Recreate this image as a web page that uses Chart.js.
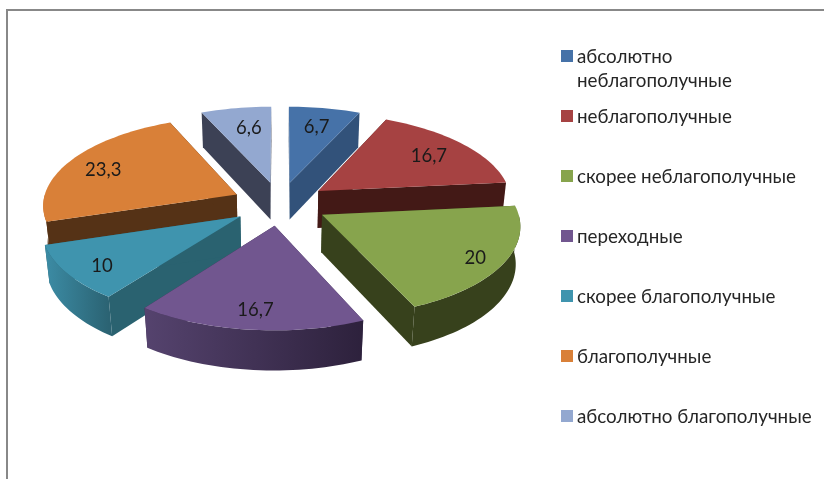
<!DOCTYPE html>
<html>
<head>
<meta charset="utf-8">
<style>
body { margin: 0; background: #fff; width: 824px; height: 479px; overflow: hidden; position: relative; font-family: Lato, "Noto Sans", sans-serif; }
#frame { position: absolute; left: 6px; top: 9px; right: 0; bottom: 0; border-left: 2px solid #888; border-top: 2px solid #888; }
canvas { position: absolute; left: 0; top: 0; }
.item { position: absolute; left: 577px; font-size: 18.8px; line-height: 24px; color: #262626; white-space: nowrap; }
.box { position: absolute; left: -16px; top: 6px; width: 12px; height: 12px; }
</style>
</head>
<body>
<div id="frame"></div>
<canvas id="grafica" width="824" height="479"></canvas>
<div id="leyenda"></div>
<script src="https://cdn.jsdelivr.net/npm/chart.js@4"></script>
<script>
const categorias = ['абсолютно\nнеблагополучные', 'неблагополучные', 'скорее неблагополучные', 'переходные', 'скорее благополучные', 'благополучные', 'абсолютно благополучные'];
const valores = [6.7, 16.7, 20, 16.7, 10, 23.3, 6.6];

const colores = ['#4672a8', '#a64242', '#87a44d', '#71568f', '#3f94ae', '#d98038', '#93a8d0'];
const coloresCorte = ['#32527a', '#431916', '#37411c', '#3a2b4d', '#2a6270', '#553216', '#3c4155'];
const ladoIzq = ['#3b6090', '#6e2c2a', '#37411c', '#55436e', '#3c8ca5', '#c87332', '#7d8eb0'];
const ladoDer = ['#32527a', '#431916', '#37411c', '#2d213c', '#2b6373', '#553216', '#3c4155'];

// proyeccion del pastel con perspectiva
const inclinacion = 0.455;
const persp = 0.00055;
const altura = 38;

function punto(el, ang, r, z) {
    const mitad = (el.startAngle + el.endAngle) / 2;
    const off = el.options.offset;
    const u = r * Math.cos(ang) + off * Math.cos(mitad);
    const v = r * Math.sin(ang) + off * Math.sin(mitad);
    const s = 1 / (1 - persp * v + 0.0005 * z);
    return { x: el.x + u * s, y: el.y + (v * inclinacion + z) * s };
}

function arco(el, z, desde, hasta) {
    let pts = [];
    const pasos = Math.max(Math.ceil((hasta - desde) / 0.03), 1);
    for (let i = 0; i <= pasos; i++) {
        pts.push(punto(el, desde + (hasta - desde) * i / pasos, el.outerRadius, z));
    }
    return pts;
}

function trazar(ctx, pts, color) {
    ctx.beginPath();
    ctx.moveTo(pts[0].x, pts[0].y);
    for (let i = 1; i < pts.length; i++) ctx.lineTo(pts[i].x, pts[i].y);
    ctx.closePath();
    ctx.fillStyle = color;
    ctx.fill();
}

const pastel3d = {
    id: 'pastel3d',
    beforeDatasetDraw(chart, args) {
        const ctx = chart.ctx;
        const arcos = args.meta.data.map((el, i) => ({ el, i }));
        // de atras hacia adelante
        arcos.sort((a, b) => Math.sin((a.el.startAngle + a.el.endAngle) / 2) - Math.sin((b.el.startAngle + b.el.endAngle) / 2));
        arcos.forEach(({ el, i }) => {
            const arriba = arco(el, 0, el.startAngle, el.endAngle);
            const abajo = arco(el, altura, el.startAngle, el.endAngle);
            const c0 = punto(el, 0, 0, 0);
            const c1 = punto(el, 0, 0, altura);
            trazar(ctx, [c0, arriba[0], abajo[0], c1], coloresCorte[i]);
            trazar(ctx, [c0, arriba[arriba.length - 1], abajo[abajo.length - 1], c1], coloresCorte[i]);
            // solo la parte del borde que mira al frente
            const desde = Math.max(el.startAngle, 0);
            const hasta = Math.min(el.endAngle, Math.PI);
            if (hasta > desde) {
                const a1 = arco(el, 0, desde, hasta);
                const a2 = arco(el, altura, desde, hasta);
                const x0 = a1[0].x, x1 = a1[a1.length - 1].x;
                const gr = ctx.createLinearGradient(Math.min(x0, x1), 0, Math.max(x0, x1), 0);
                gr.addColorStop(0, ladoIzq[i]);
                gr.addColorStop(1, ladoDer[i]);
                trazar(ctx, a1.concat(a2.slice().reverse()), gr);
            }
            trazar(ctx, [c0].concat(arriba), colores[i]);
        });
        ctx.save();
        ctx.font = '18.5px Lato, "Noto Sans"';
        ctx.fillStyle = '#1a1a1a';
        ctx.textAlign = 'center';
        ctx.textBaseline = 'middle';
        // ajuste fino de las etiquetas, como quedaron en el original
        const ajusteX = [-1, -3, 13, 0, -5, -3, 6];
        const ajusteY = [4, 2, 6, 5, 6, 2, 5];
        args.meta.data.forEach((el, i) => {
            const p = punto(el, (el.startAngle + el.endAngle) / 2, el.outerRadius * 0.78, 0);
            ctx.fillText(String(valores[i]).replace('.', ','), p.x + ajusteX[i], p.y + ajusteY[i]);
        });
        ctx.restore();
        return false;
    }
};

new Chart(document.getElementById('grafica'), {
    type: 'pie',
    data: {
        labels: categorias,
        datasets: [{ data: valores, backgroundColor: colores, offset: 48, borderWidth: 0, radius: 194 }]
    },
    options: {
        responsive: false,
        animation: false,
        events: [],
        radius: 194,
        layout: { padding: { left: 0, top: 0, right: 264, bottom: 72 } },
        plugins: { legend: { display: false }, tooltip: { enabled: false } }
    },
    plugins: [pastel3d]
});

const leyenda = document.getElementById('leyenda');
categorias.forEach((nombre, i) => {
    const item = document.createElement('div');
    item.className = 'item';
    item.style.top = (44 + i * 60) + 'px';
    item.innerHTML = nombre.replace('\n', '<br>');
    const box = document.createElement('div');
    box.className = 'box';
    box.style.background = colores[i];
    item.appendChild(box);
    leyenda.appendChild(item);
});
</script>
</body>
</html>
